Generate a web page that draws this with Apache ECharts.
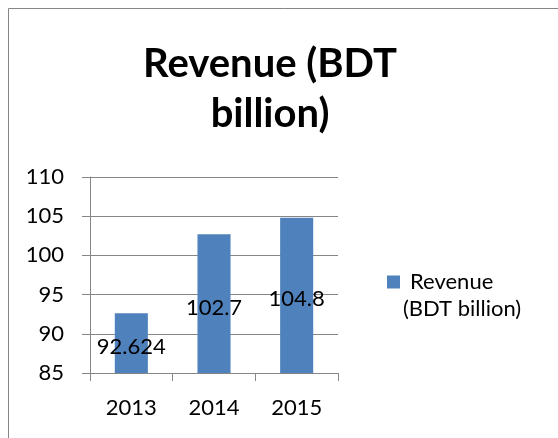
<!DOCTYPE html>
<html>
<head>
<meta charset="utf-8">
<script src="https://cdn.jsdelivr.net/npm/echarts@6/dist/echarts.min.js"></script>
<style>
  html, body { margin: 0; padding: 0; background: #fff; }
  #chart { width: 558px; height: 438px; }
</style>
</head>
<body>
<div id="chart"></div>
<script>
// data
var years = ["2013", "2014", "2015"];
var revenue = [92.624, 102.7, 104.8];
var seriesName = "Revenue (BDT billion)";

var chart = echarts.init(document.getElementById("chart"));
var font = "Lato, 'Liberation Sans', sans-serif";

var option = {
  animation: false,
  textStyle: { fontFamily: font },
  title: {
    text: "Revenue (BDT\nbillion)",
    left: 265,
    top: 34,
    textAlign: "center",
    textStyle: {
      fontFamily: font,
      fontSize: 40,
      fontWeight: "bold",
      color: "#000",
      lineHeight: 50
    }
  },
  graphic: [
    // frame of the chart area (cut off at right and bottom)
    {
      type: "polyline",
      shape: { points: [[8.5, 438], [8.5, 8.5], [558, 8.5]] },
      style: { stroke: "#868686", lineWidth: 1, fill: null }
    },
    // second line of the legend entry
    {
      type: "text",
      left: 403,
      top: 298,
      style: {
        text: "(BDT billion)",
        fontFamily: font,
        fontSize: 22,
        fill: "#000"
      }
    }
  ],
  legend: {
    left: 382,
    top: 266,
    itemWidth: 13,
    itemHeight: 13,
    icon: "rect",
    data: [{ name: seriesName }],
    formatter: function() {
      return "Revenue";
    },
    textStyle: {
      fontFamily: font,
      fontSize: 22,
      color: "#000",
      padding: [0, 0, 0, 5]
    }
  },
  grid: {
    left: 90,
    right: 220,
    top: 177,
    bottom: 65
  },
  xAxis: {
    type: "category",
    data: years,
    axisLine: { lineStyle: { color: "#868686" } },
    axisTick: { show: true, length: 8, lineStyle: { color: "#868686" } },
    axisLabel: { color: "#000", fontSize: 22, margin: 24 }
  },
  yAxis: {
    type: "value",
    min: 85,
    max: 110,
    interval: 5,
    axisLine: { show: true, lineStyle: { color: "#868686" } },
    axisTick: { show: true, length: 8, lineStyle: { color: "#868686" } },
    axisLabel: { color: "#000", fontSize: 22, margin: 26 },
    splitLine: { lineStyle: { color: "#868686" } }
  },
  series: [
    {
      name: seriesName,
      type: "bar",
      data: revenue,
      barWidth: "40%",
      itemStyle: { color: "#4F81BD" },
      label: {
        show: true,
        position: "inside",
        offset: [0, 4],
        color: "#000",
        fontSize: 22,
        fontFamily: font
      }
    }
  ]
};
chart.setOption(option);
</script>
</body>
</html>
